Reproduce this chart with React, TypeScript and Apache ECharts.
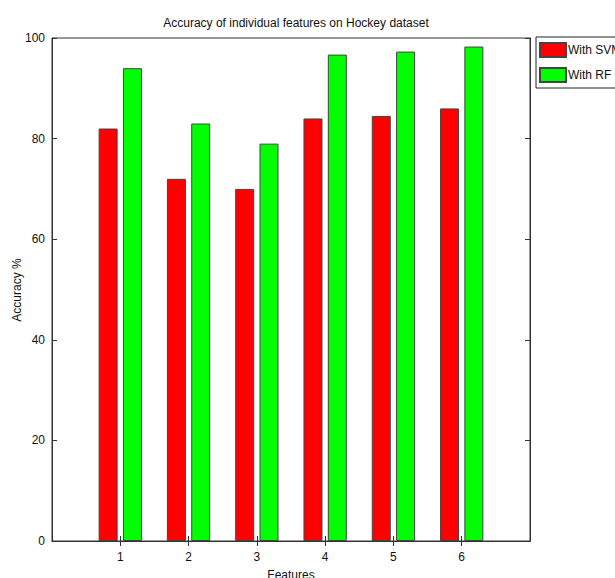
import React, { useEffect, useRef } from "react";
import * as echarts from "echarts";

const categories = ["0", "1", "2", "3", "4", "5", "6", "7"];
const svmValues = [null, 82, 72, 70, 84, 84.5, 86, null];
const rfValues = [null, 94, 83, 79, 96.7, 97.3, 98.3, null];
const yTicks = { min: 0, max: 100, interval: 20 };

const FONT = "Liberation Sans";

export default function App() {
  const ref = useRef<HTMLDivElement>(null);
  useEffect(() => {
    if (!ref.current) return;
    const chart = echarts.init(ref.current, null, { renderer: "svg" });
    const showTick = (i: number) => i >= 1 && i <= 6;
    chart.setOption({
      animation: false,
      backgroundColor: "#ffffff",
      textStyle: { fontFamily: FONT },
      title: {
        text: "Accuracy of individual features on Hockey dataset",
        left: 291,
        top: 12,
        textAlign: "center",
        textStyle: { fontFamily: FONT, fontSize: 12, fontWeight: "normal", color: "#111" },
      },
      graphic: [
        {
          type: "text",
          x: 17,
          y: 290,
          rotation: Math.PI / 2,
          style: {
            text: "Accuracy %",
            fontFamily: FONT,
            fontSize: 12,
            fill: "#111",
            textAlign: "center",
            textVerticalAlign: "middle",
          },
        },
      ],
      legend: {
        orient: "vertical",
        left: 536,
        top: 37,
        icon: "rect",
        itemWidth: 26,
        itemHeight: 14,
        itemGap: 9,
        padding: [5, 40, 5, 3],
        borderColor: "#222",
        borderWidth: 1,
        textStyle: { fontFamily: FONT, fontSize: 12, color: "#111", padding: [0, 0, 0, -3] },
        data: ["With SVM", "With RF"],
      },
      grid: {
        left: 52,
        right: 85,
        top: 38,
        bottom: 37,
        containLabel: false,
        outerBoundsMode: "none",
        show: true,
        borderColor: "#333",
        borderWidth: 1,
      },
      xAxis: [
        {
          type: "category",
          data: categories,
          boundaryGap: false,
          name: "Features",
          nameLocation: "middle",
          nameGap: 28,
          nameTextStyle: { fontFamily: FONT, fontSize: 12, color: "#111" },
          axisLine: { lineStyle: { color: "#333" } },
          axisTick: { inside: true, length: 5, interval: (i: number) => showTick(i), lineStyle: { color: "#333" } },
          axisLabel: {
            interval: (i: number) => showTick(i),
            formatter: (v: string) => (v === "0" || v === "7" ? "" : v),
            fontFamily: FONT,
            fontSize: 12,
            color: "#111",
            margin: 10,
          },
          splitLine: { show: false },
        },
        {
          type: "category",
          data: categories,
          boundaryGap: false,
          position: "top",
          axisLine: { lineStyle: { color: "#333" } },
          axisTick: { inside: true, length: 5, interval: (i: number) => showTick(i), lineStyle: { color: "#333" } },
          axisLabel: { show: false },
          splitLine: { show: false },
        },
      ],
      yAxis: [
        {
          type: "value",
          min: yTicks.min,
          max: yTicks.max,
          interval: yTicks.interval,
          axisLine: { show: true, lineStyle: { color: "#333" } },
          axisTick: { show: true, inside: true, length: 5, lineStyle: { color: "#333" } },
          axisLabel: { fontFamily: FONT, fontSize: 12, color: "#111", margin: 7 },
          splitLine: { show: false },
        },
        {
          type: "value",
          min: yTicks.min,
          max: yTicks.max,
          interval: yTicks.interval,
          position: "right",
          axisLine: { show: true, lineStyle: { color: "#333" } },
          axisTick: { show: true, inside: true, length: 5, lineStyle: { color: "#333" } },
          axisLabel: { show: false },
          splitLine: { show: false },
        },
      ],
      series: [
        {
          name: "With SVM",
          type: "bar",
          data: svmValues,
          barWidth: 19,
          barGap: "28%",
          itemStyle: { color: "#ff0000", borderColor: "#444", borderWidth: 1 },
        },
        {
          name: "With RF",
          type: "bar",
          data: rfValues,
          barWidth: 19,
          barGap: "28%",
          itemStyle: { color: "#00ff00", borderColor: "#444", borderWidth: 1 },
        },
      ],
    });
    return () => chart.dispose();
  }, []);
  return (
    <div
      ref={ref}
      style={{ position: "fixed", left: 0, top: 0, width: 615, height: 578 }}
    />
  );
}
